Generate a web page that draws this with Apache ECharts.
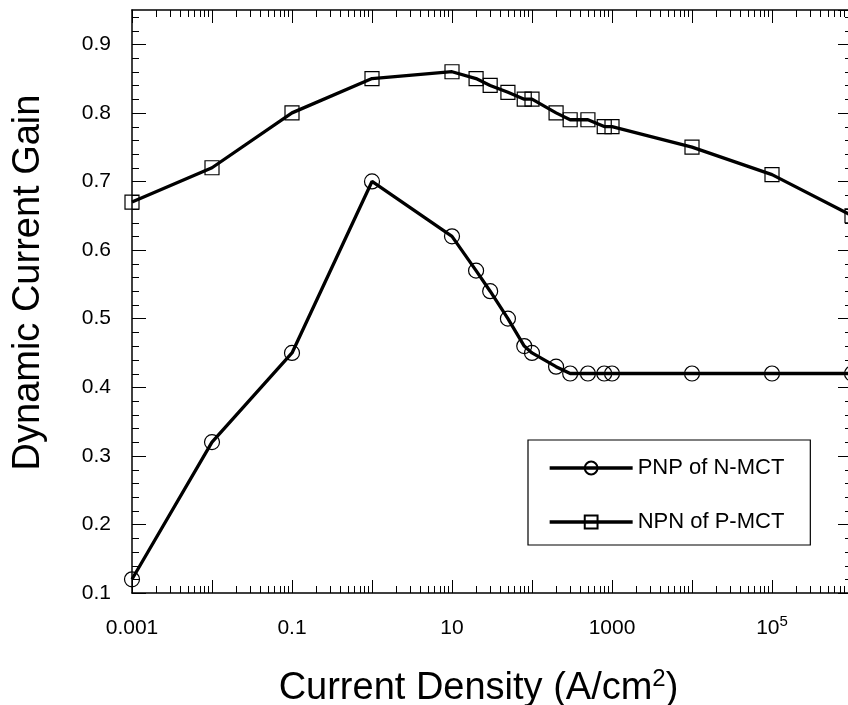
<!DOCTYPE html>
<html>
<head>
<meta charset="utf-8">
<script src="https://cdn.jsdelivr.net/npm/echarts@6/dist/echarts.min.js"></script>
<style>
  html, body { margin: 0; padding: 0; background: #fff; }
  #myChart { width: 848px; height: 705px; }
</style>
</head>
<body>
<div id="myChart"></div>
<script>
  // current density (A/cm2), same points for both curves
  var currentDensity = [0.001, 0.01, 0.1, 1, 10, 20, 30, 50, 80, 100, 200, 300, 500, 800, 1000, 1e4, 1e5, 1e6]
  var pnpGain = [0.12, 0.32, 0.45, 0.70, 0.62, 0.57, 0.54, 0.50, 0.46, 0.45, 0.43, 0.42, 0.42, 0.42, 0.42, 0.42, 0.42, 0.42]
  var npnGain = [0.67, 0.72, 0.80, 0.85, 0.86, 0.85, 0.84, 0.83, 0.82, 0.82, 0.80, 0.79, 0.79, 0.78, 0.78, 0.75, 0.71, 0.65]
  var seriesNames = ['PNP of N-MCT', 'NPN of P-MCT']

  // labels for decades 1e-3 .. 1e6 ('^' = superscript)
  var xTickLabels = ['0.001', '', '0.1', '', '10', '', '1000', '', '10^5', '']
  var decades = [0.001, 0.01, 0.1, 1, 10, 100, 1000, 1e4, 1e5]
  var minorSteps = [2, 3, 4, 5, 6, 7, 8, 9]

  var xMinorTicks = []
  decades.forEach(function (d) {
    minorSteps.forEach(function (m) { xMinorTicks.push([d * m, 0.5]) })
  })
  var yMinorTicks = []
  for (var i = 1; i <= 42; i++) {
    if (i % 5 !== 0) yMinorTicks.push([1, Math.round((0.1 + 0.02 * i) * 100) / 100])
  }

  var font = 'Liberation Sans, Arial, sans-serif'
  var black = '#000'

  function pairs(ys) {
    return currentDensity.map(function (x, k) { return [x, ys[k]] })
  }

  function crisp(v) { return Math.round(v) + 0.5 }

  function supText(s) {
    if (!s) return ''
    var p = s.split('^')
    return p.length > 1 ? '{n|' + p[0] + '}{sup|' + p[1] + '}' : '{n|' + s + '}'
  }

  var myChart = echarts.init(document.getElementById('myChart'))
  var option = {
    backgroundColor: '#fff',
    animation: false,
    textStyle: { fontFamily: font, color: black },
    grid: { left: 132, right: -4, top: 10, bottom: 112, outerBoundsMode: 'none', containLabel: false },
    legend: {
      orient: 'vertical',
      left: 528,
      top: 440,
      padding: [17, 26, 12, 20],
      itemWidth: 83,
      itemHeight: 16,
      itemGap: 32,
      borderColor: black,
      borderWidth: 1.2,
      lineStyle: { width: 3.3 },
      textStyle: { fontFamily: font, fontSize: 22, color: black },
      data: seriesNames
    },
    xAxis: [{
      type: 'log',
      logBase: 10,
      min: 0.001,
      max: 1e6,
      splitNumber: 9,
      name: '{n|Current Density (A/cm}{sup|2}{n|)}',
      nameLocation: 'middle',
      nameGap: 74,
      nameTextStyle: {
        fontFamily: font, fontSize: 38, color: black, padding: [0, 27, 0, 0],
        rich: {
          n: { fontFamily: font, fontSize: 38, lineHeight: 44, color: black },
          sup: { fontFamily: font, fontSize: 24, lineHeight: 28, verticalAlign: 'top', color: black }
        }
      },
      axisLine: { lineStyle: { color: black, width: 1.5 } },
      axisTick: { inside: true, length: 13, lineStyle: { color: black } },
      splitLine: { show: false },
      axisLabel: {
        margin: 21,
        color: black,
        formatter: function (v) {
          var e = Math.round(Math.log10(v))
          return supText(xTickLabels[e + 3])
        },
        rich: {
          n: { fontFamily: font, fontSize: 21, lineHeight: 28, color: black },
          sup: { fontFamily: font, fontSize: 15, lineHeight: 15, verticalAlign: 'top', color: black }
        }
      }
    }, {
      type: 'log',
      logBase: 10,
      position: 'top',
      min: 0.001,
      max: 1e6,
      splitNumber: 9,
      axisLine: { lineStyle: { color: black, width: 1.5 } },
      axisTick: { inside: true, length: 13, lineStyle: { color: black } },
      axisLabel: { show: false },
      splitLine: { show: false }
    }],
    yAxis: [{
      type: 'value',
      min: 0.1,
      max: 0.95,
      interval: 0.1,
      name: 'Dynamic Current Gain',
      nameLocation: 'middle',
      nameRotate: 90,
      nameGap: 84,
      nameTextStyle: { fontFamily: font, fontSize: 38, color: black, padding: [0, 0, 0, 38] },
      axisLine: { show: true, lineStyle: { color: black, width: 1.5 } },
      axisTick: { show: true, inside: true, length: 14, lineStyle: { color: black } },
      splitLine: { show: false },
      axisLabel: { margin: 21, fontSize: 21, color: black, showMaxLabel: false }
    }, {
      type: 'value',
      position: 'right',
      min: 0.1,
      max: 0.95,
      interval: 0.1,
      axisLine: { show: true, lineStyle: { color: black, width: 1.5 } },
      axisTick: { show: true, inside: true, length: 14, lineStyle: { color: black } },
      axisLabel: { show: false },
      splitLine: { show: false }
    }],
    series: [{
      name: seriesNames[0],
      type: 'line',
      data: pairs(pnpGain),
      symbol: 'circle',
      symbolSize: 15,
      lineStyle: { color: black, width: 3.3 },
      itemStyle: { color: 'rgba(0,0,0,0)', borderColor: black, borderWidth: 1.2 },
      z: 3
    }, {
      name: seriesNames[1],
      type: 'line',
      data: pairs(npnGain),
      symbol: 'rect',
      symbolSize: 14,
      lineStyle: { color: black, width: 3.3 },
      itemStyle: { color: 'rgba(0,0,0,0)', borderColor: black, borderWidth: 1.2 },
      z: 3
    }, {
      // x minor ticks at 2..9 of each decade, bottom and top
      type: 'custom',
      silent: true,
      data: xMinorTicks,
      renderItem: function (params, api) {
        var cs = params.coordSys
        var x = crisp(api.coord([api.value(0), 0.5])[0])
        var bottom = cs.y + cs.height
        return {
          type: 'group',
          children: [
            { type: 'line', shape: { x1: x, y1: bottom, x2: x, y2: bottom - 7 }, style: { stroke: black, lineWidth: 1 } },
            { type: 'line', shape: { x1: x, y1: cs.y, x2: x, y2: cs.y + 7 }, style: { stroke: black, lineWidth: 1 } }
          ]
        }
      }
    }, {
      // y minor ticks every 0.02, left and right
      type: 'custom',
      silent: true,
      data: yMinorTicks,
      renderItem: function (params, api) {
        var cs = params.coordSys
        var y = crisp(api.coord([1, api.value(1)])[1])
        var right = cs.x + cs.width
        return {
          type: 'group',
          children: [
            { type: 'line', shape: { x1: cs.x, y1: y, x2: cs.x + 7, y2: y }, style: { stroke: black, lineWidth: 1 } },
            { type: 'line', shape: { x1: right, y1: y, x2: right - 7, y2: y }, style: { stroke: black, lineWidth: 1 } }
          ]
        }
      }
    }]
  }
  myChart.setOption(option)
</script>
</body>
</html>
